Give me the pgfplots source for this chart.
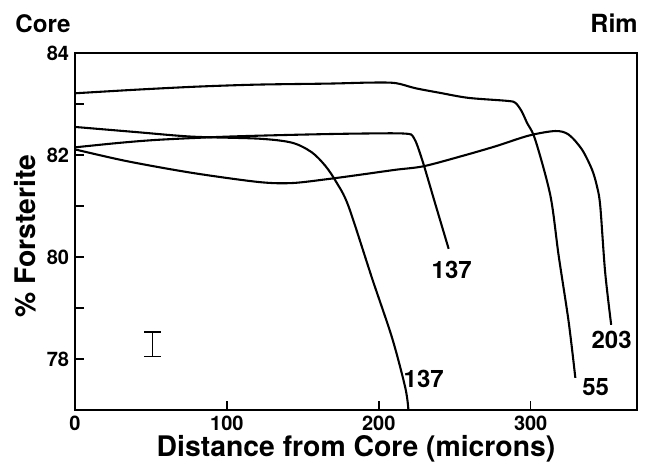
\documentclass[border=0pt]{standalone}
\usepackage{fontspec}
\setmainfont{TeX Gyre Heros}
\usepackage{pgfplots}
\pgfplotsset{compat=1.18}
\begin{document}
\begin{tikzpicture}
\begin{axis}[
  scale only axis,
  width=337.2pt, height=214.2pt,
  xmin=0, xmax=370, ymin=77, ymax=84,
  axis line style={line width=1.6pt},
  tick pos=left, tick align=inside,
  xtick={0,100,200,300},
  ytick={78,79,80,81,82,83,84},
  yticklabels={78,,80,,82,,84},
  major tick length=5.5pt,
  tick style={line width=0.9pt, black},
  /pgf/number format/assume math mode=true,
  ticklabel style={font=\fontsize{12}{14}\selectfont\bfseries},
  xlabel={Distance from Core (microns)},
  ylabel={\% Forsterite},
  label style={font=\fontsize{17}{20}\selectfont\bfseries},
  xlabel style={at={(axis description cs:0.5,-0.1316)}, anchor=base},
  ylabel style={at={(axis description cs:-0.089,0.487)}, anchor=center},
  clip=false,
]
% curve 55 (top)
\addplot[black, line width=1.25pt, smooth, tension=0.5] coordinates {
 (0,83.21) (40,83.28) (80,83.34) (120,83.38) (167,83.40) (195,83.42) (211,83.41)
 (224,83.31) (240,83.22) (259,83.12) (285,83.06) (290,83.02) (294,82.86)
 (297.6,82.63) (303,82.30) (313,81.20) (318.4,80.03) (325,78.73) (329.4,77.63)
};
% curve 137 (upper)
\addplot[black, line width=1.25pt, smooth, tension=0.5] coordinates {
 (0,82.15) (30,82.24) (56,82.30) (100,82.36) (150,82.40) (187,82.42) (217,82.42)
 (223,82.34) (228.5,81.91) (237.3,81.03) (246,80.16)
};
% curve 137 (lower)
\addplot[black, line width=1.25pt, smooth, tension=0.5] coordinates {
 (0,82.55) (40,82.45) (77,82.36) (121,82.32) (143,82.24) (156,82.05) (165,81.78)
 (172,81.47) (180,81.0) (195.6,79.58) (208.8,78.41) (217.5,77.43) (219.5,77.0)
};
% curve 203
\addplot[black, line width=1.25pt, smooth, tension=0.5] coordinates {
 (0,82.11) (34,81.88) (77,81.65) (121,81.47) (143,81.45) (167,81.53) (187,81.61)
 (211,81.71) (229.6,81.78) (254.8,81.98) (276.8,82.17) (298.7,82.38) (316.2,82.47)
 (325,82.40) (333.7,82.11) (340.3,81.72) (343.6,81.39) (345.8,81.0) (349,79.71) (353,78.67)
};
% error bar
\addplot[black, mark=none, line width=0.9pt, forget plot,
  error bars/.cd, y dir=both, y explicit, error mark=|,
  error bar style={line width=0.9pt},
  error mark options={line width=0.9pt, mark size=5pt, rotate=0}]
 coordinates {(51,78.29) +- (0,0.24)};
% curve labels
\node[font=\fontsize{14.4}{16}\selectfont\bfseries] at (axis cs:248,79.75) {137};
\node[font=\fontsize{14.4}{16}\selectfont\bfseries] at (axis cs:229.6,77.61) {137};
\node[font=\fontsize{14.4}{16}\selectfont\bfseries] at (axis cs:342.8,77.45) {55};
\node[font=\fontsize{14.4}{16}\selectfont\bfseries] at (axis cs:353.3,78.37) {203};
% Core / Rim
\node[anchor=base west, font=\fontsize{14.5}{17}\selectfont\bfseries, inner sep=0pt]
  at ([xshift=-36pt,yshift=12.5pt]rel axis cs:0,1) {Core};
\node[anchor=base east, font=\fontsize{15}{18}\selectfont\bfseries, inner sep=0pt]
  at ([xshift=0.6pt,yshift=12.5pt]rel axis cs:1,1) {Rim};
% page frame
\path ([xshift=-45pt,yshift=-31.8pt]rel axis cs:0,0) rectangle ([xshift=4.8pt,yshift=31.8pt]rel axis cs:1,1);
\end{axis}
\end{tikzpicture}
\end{document}
